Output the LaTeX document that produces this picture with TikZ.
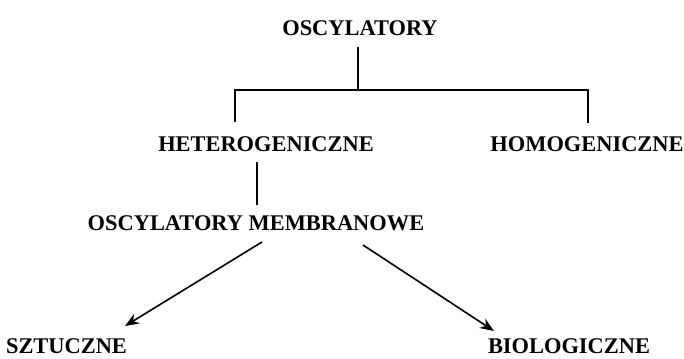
\documentclass[tikz,border=0pt]{standalone}
\usepackage{fontspec}
\setmainfont{Liberation Serif}
\usetikzlibrary{arrows.meta}
\begin{document}
\begin{tikzpicture}[x=1bp,y=-1bp,
  lbl/.style={font=\fontsize{22.5}{25}\selectfont\bfseries, inner sep=0pt, anchor=base},
  conn/.style={line width=1.8bp},
  arr/.style={line width=1.6bp, -{Stealth[length=14bp,width=11bp]}}]
\useasboundingbox (0,0) rectangle (684,358);
\node[lbl] (osc) at (360,35) {OSCYLATORY};
\node[lbl] (het) at (266,151.5) {HETEROGENICZNE};
\node[lbl] (hom) at (587,151.5) {HOMOGENICZNE};
\node[lbl] (mem) at (256,230) {OSCYLATORY MEMBRANOWE};
\node[lbl] (szt) at (66.5,353.5) {SZTUCZNE};
\node[lbl] (bio) at (569,353.5) {BIOLOGICZNE};
\coordinate (t0) at (358,47);
\coordinate (t1) at (358,90);
\coordinate (hl) at (235,122);
\coordinate (hr) at (588,123);
\coordinate (m0) at (257,162);
\coordinate (m1) at (257,205);
\coordinate (a0) at (262,242);
\coordinate (a1) at (125,326);
\coordinate (b0) at (363,245);
\coordinate (b1) at (494,331);
\draw[conn] (t0) -- (t1);
\draw[conn] (hl) |- (t1) -| (hr);
\draw[conn] (m0) -- (m1);
\draw[arr] (a0) -- (a1);
\draw[arr] (b0) -- (b1);
\end{tikzpicture}
\end{document}
